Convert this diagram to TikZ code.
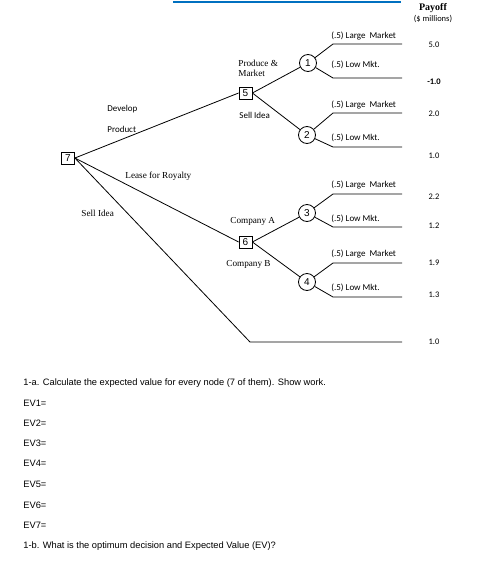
\documentclass[tikz,border=0pt]{standalone}
\usepackage{fontspec}
\setmainfont{Liberation Serif}
\newfontfamily\calfont{Carlito}
\newfontfamily\arialfont{Liberation Sans}
\definecolor{hdrblue}{RGB}{0,112,192}
\begin{document}
\begin{tikzpicture}[x=1pt,y=-1pt,line width=0.8pt,
  dec/.style={draw,rectangle,minimum width=13pt,minimum height=12pt,inner sep=0pt,font=\arialfont\fontsize{10}{10}\selectfont},
  chance/.style={draw,circle,minimum size=17pt,inner sep=0pt,font=\arialfont\fontsize{10}{10}\selectfont},
  sm/.style={font=\calfont\fontsize{9}{10}\selectfont,inner sep=0pt},
  ser/.style={font=\fontsize{9.2}{10}\selectfont,inner sep=0pt},
  pay/.style={font=\calfont\fontsize{8.5}{9}\selectfont,inner sep=0pt},
  txt/.style={font=\arialfont\fontsize{9.3}{11}\selectfont,anchor=west,inner sep=0pt}]
\useasboundingbox (0,0) rectangle (491,584);
\fill[white] (0,0) rectangle (491,584);
% header line
\coordinate (h1) at (173,2);
\coordinate (h2) at (401,2);
\draw[hdrblue,line width=1.2pt] (h1) -- (h2);
\node[font=\bfseries\fontsize{10}{10}\selectfont,inner sep=0pt] (payh) at (433,8) {Payoff};
\node[pay] (payu) at (433,19) {(\$ millions)};
% decision and chance nodes
\node[dec] (n7) at (68,158) {7};
\node[dec] (n5) at (245.5,93) {5};
\node[dec] (n6) at (245.5,242) {6};
\node[chance] (n1) at (308,63) {1};
\node[chance] (n2) at (307,135) {2};
\node[chance] (n3) at (307,213) {\raisebox{-1.5pt}{3}};
\node[chance] (n4) at (307,282) {4};
% branch end points
\coordinate (a1) at (333,44);  \coordinate (b1) at (402,44);
\coordinate (a2) at (333,78);  \coordinate (b2) at (402,78);
\coordinate (a3) at (333,113); \coordinate (b3) at (402,113);
\coordinate (a4) at (333,147); \coordinate (b4) at (402,147);
\coordinate (a5) at (333,194); \coordinate (b5) at (402,194);
\coordinate (a6) at (333,227); \coordinate (b6) at (402,227);
\coordinate (a7) at (333,263); \coordinate (b7) at (402,263);
\coordinate (a8) at (333,297); \coordinate (b8) at (402,297);
\coordinate (s1) at (250,342); \coordinate (s2) at (402,342);
% connectors
\draw (n7.east) -- (n5.west);
\draw (n7.east) -- (n6.west);
\draw (n7.east) -- (s1) -- (s2);
\draw (n5.east) -- (n1);
\draw (n5.east) -- (n2);
\draw (n6.east) -- (n3);
\draw (n6.east) -- (n4);
\draw (n1) -- (a1) -- (b1);
\draw (n1) -- (a2) -- (b2);
\draw (n2) -- (a3) -- (b3);
\draw (n2) -- (a4) -- (b4);
\draw (n3) -- (a5) -- (b5);
\draw (n3) -- (a6) -- (b6);
\draw (n4) -- (a7) -- (b7);
\draw (n4) -- (a8) -- (b8);
% branch labels
\node[sm,anchor=west] (l1) at (331,36) {(.5) Large\ \ Market};
\node[sm,anchor=west] (l2) at (331,65) {(.5) Low Mkt.};
\node[sm,anchor=west] (l3) at (331,105) {(.5) Large\ \ Market};
\node[sm,anchor=west] (l4) at (331,138) {(.5) Low Mkt.};
\node[sm,anchor=west] (l5) at (331,185) {(.5) Large\ \ Market};
\node[sm,anchor=west] (l6) at (331,219) {(.5) Low Mkt.};
\node[sm,anchor=west] (l7) at (331,254) {(.5) Large\ \ Market};
\node[sm,anchor=west] (l8) at (331,288) {(.5) Low Mkt.};
\node[ser,anchor=west,align=left] (pm) at (238,68.5) {Produce \&\\[0.5pt]Market};
\node[sm,anchor=west] (si5) at (239,115) {Sell Idea};
\node[sm,anchor=west] (dev) at (107,109) {Develop};
\node[sm,anchor=west] (prd) at (107,129) {Product};
\node[ser,anchor=west] (lfr) at (125,176) {Lease for Royalty};
\node[ser,anchor=west] (sil) at (81,213) {Sell Idea};
\node[ser,anchor=west] (ca) at (230,221) {Company A};
\node[ser,anchor=west] (cb) at (226,264) {Company B};
% payoffs
\node[pay] (p1) at (434,45) {5.0};
\node[pay,font=\calfont\bfseries\fontsize{8.5}{9}\selectfont] (p2) at (434,82) {-1.0};
\node[pay] (p3) at (434,114) {2.0};
\node[pay] (p4) at (434,156) {1.0};
\node[pay] (p5) at (434,197) {2.2};
\node[pay] (p6) at (434,226) {1.2};
\node[pay] (p7) at (434,263) {1.9};
\node[pay] (p8) at (434,295) {1.3};
\node[pay] (p9) at (434,342) {1.0};
% questions
\node[txt] (q1) at (23,383) {1-a. Calculate the expected value for every node (7 of them). Show work.};
\node[txt] (e1) at (23,403) {EV1=};
\node[txt] (e2) at (23,423) {EV2=};
\node[txt] (e3) at (23,443) {EV3=};
\node[txt] (e4) at (23,463) {EV4=};
\node[txt] (e5) at (23,484) {EV5=};
\node[txt] (e6) at (23,505) {EV6=};
\node[txt] (e7) at (23,525) {EV7=};
\node[txt] (q2) at (23,546) {1-b. What is the optimum decision and Expected Value (EV)?};
\end{tikzpicture}
\end{document}
